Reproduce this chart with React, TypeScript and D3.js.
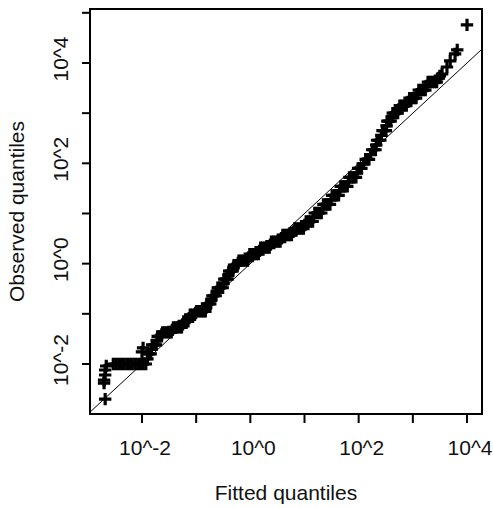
import React from "react";
import * as d3 from "d3";

// QQ plot points, stored as log10 exponents (fitted, observed)
const fittedExp = [
  // lowest isolated points
  -2.68, -2.7, -2.7, -2.68, -2.68, -2.66,
  // tie at 10^-2
  -2.53, -2.48, -2.43, -2.38, -2.33, -2.28, -2.23, -2.18, -2.13, -2.08, -2.03, -1.98, -1.93,
  -2.0, -1.98,
  // rise
  -1.9, -1.87, -1.84, -1.825, -1.81, -1.77, -1.74, -1.725, -1.71, -1.68, -1.65, -1.635,
  -1.62, -1.58, -1.54, -1.5, -1.46, -1.44, -1.42, -1.38, -1.34, -1.3, -1.27, -1.25,
  -1.23, -1.19, -1.15, -1.13, -1.11, -1.07, -1.03, -1.01,
  -0.99, -0.95, -0.91, -0.87, -0.83, -0.815,
  -0.8, -0.77, -0.74, -0.72, -0.7, -0.67, -0.64, -0.62, -0.6, -0.57, -0.54, -0.51, -0.495,
  -0.48, -0.45, -0.42, -0.405, -0.39, -0.36, -0.33, -0.315, -0.3, -0.27, -0.24, -0.225,
  -0.21, -0.17, -0.13, -0.09, -0.05, -0.03, -0.01, 0.03, 0.07, 0.11, 0.15, 0.17,
  0.19, 0.23, 0.27, 0.31, 0.35, 0.37, 0.39, 0.43, 0.47, 0.51, 0.55, 0.575,
  0.6, 0.64, 0.68, 0.72, 0.76, 0.79, 0.82, 0.86, 0.9, 0.94, 0.98, 1.005,
  1.03, 1.07, 1.11, 1.15, 1.17, 1.19, 1.23, 1.27, 1.31, 1.33, 1.35, 1.39, 1.43, 1.47, 1.49,
  1.51, 1.55, 1.59, 1.63, 1.65, 1.67, 1.71, 1.75, 1.79, 1.81, 1.83, 1.87, 1.91, 1.95, 1.97,
  1.99, 2.02, 2.05, 2.09, 2.13, 2.16, 2.19, 2.22, 2.25, 2.28, 2.31, 2.325, 2.34, 2.37, 2.4, 2.42,
  2.44, 2.47, 2.5, 2.515, 2.53, 2.56, 2.59, 2.61, 2.63, 2.66, 2.69, 2.72, 2.74,
  2.76, 2.8, 2.84, 2.88, 2.91, 2.94, 2.98, 3.02, 3.06, 3.085, 3.11, 3.15, 3.19, 3.23, 3.255,
  3.28, 3.32, 3.36, 3.4, 3.44, 3.48, 3.5,
  // upper tail
  3.54, 3.63, 3.69, 3.78, 3.82, 4.0,
];
const observedExp = [
  -2.7, -2.38, -2.32, -2.22, -2.12, -2.04,
  -2.0, -2.0, -2.0, -2.0, -2.0, -2.0, -2.0, -2.0, -2.0, -2.0, -2.0, -2.0, -2.0,
  -1.76, -1.68,
  -1.9, -1.8, -1.8, -1.71, -1.62, -1.62, -1.62, -1.535, -1.45, -1.45, -1.45, -1.41,
  -1.37, -1.37, -1.37, -1.37, -1.37, -1.32, -1.27, -1.27, -1.27, -1.27, -1.27, -1.21,
  -1.15, -1.15, -1.15, -1.085, -1.02, -1.02, -1.02, -0.985,
  -0.95, -0.95, -0.95, -0.95, -0.95, -0.875,
  -0.8, -0.8, -0.8, -0.72, -0.64, -0.64, -0.64, -0.56, -0.48, -0.48, -0.48, -0.48, -0.395,
  -0.31, -0.31, -0.31, -0.23, -0.15, -0.15, -0.15, -0.09, -0.03, -0.03, -0.03, 0.015,
  0.06, 0.06, 0.06, 0.06, 0.06, 0.125, 0.19, 0.19, 0.19, 0.19, 0.19, 0.255,
  0.32, 0.32, 0.32, 0.32, 0.32, 0.38, 0.44, 0.44, 0.44, 0.44, 0.44, 0.505,
  0.57, 0.57, 0.57, 0.57, 0.57, 0.635, 0.7, 0.7, 0.7, 0.7, 0.7, 0.77,
  0.84, 0.84, 0.84, 0.84, 0.925, 1.01, 1.01, 1.01, 1.01, 1.095, 1.18, 1.18, 1.18, 1.18, 1.27,
  1.36, 1.36, 1.36, 1.36, 1.45, 1.54, 1.54, 1.54, 1.54, 1.63, 1.72, 1.72, 1.72, 1.72, 1.81,
  1.9, 1.9, 1.9, 1.99, 2.08, 2.08, 2.08, 2.175, 2.27, 2.27, 2.27, 2.365, 2.46, 2.46, 2.46, 2.555,
  2.65, 2.65, 2.65, 2.745, 2.84, 2.84, 2.84, 2.92, 3.0, 3.0, 3.0, 3.0, 3.075,
  3.15, 3.15, 3.15, 3.15, 3.225, 3.3, 3.3, 3.3, 3.3, 3.38, 3.46, 3.46, 3.46, 3.46, 3.54,
  3.62, 3.62, 3.62, 3.62, 3.62, 3.7, 3.74,
  3.78, 3.92, 4.04, 4.18, 4.26, 4.76,
];

const xTickExps = [-2, -1, 0, 1, 2, 3, 4];
const yTickExps = [-2, -1, 0, 1, 2, 3, 4, 5];
const labelExps = [-2, 0, 2, 4];

const xTitle = "Fitted quantiles";
const yTitle = "Observed quantiles";

export default function App() {
  const left = 90, right = 482, top = 9, bottom = 414;
  const x = d3.scaleLog().domain([10 ** -2.96, 10 ** 4.277]).range([left, right]);
  const y = d3.scaleLog().domain([10 ** -2.997, 10 ** 5.076]).range([bottom, top]);
  const pts = fittedExp.map((e, i) => [10 ** e, 10 ** observedExp[i]]);
  const font = "'Liberation Sans', Arial, sans-serif";
  const ms = 6.2;
  const d0 = 10 ** -3.2, d1 = 10 ** 5.2;
  return (
    <svg width={493} height={508} style={{ position: "absolute", left: 0, top: 0, background: "#fff" }}>
      <defs>
        <clipPath id="plotclip">
          <rect x={left} y={top} width={right - left} height={bottom - top} />
        </clipPath>
      </defs>
      <rect x={0} y={0} width={493} height={508} fill="#fff" />
      <g clipPath="url(#plotclip)">
        <line x1={x(d0)} y1={y(d0)} x2={x(d1)} y2={y(d1)} stroke="#000" strokeWidth={1} />
      </g>
      <g stroke="#000" strokeWidth={3.2} fill="none">
        {pts.map(([fx, oy], i) => {
          const cx = x(fx), cy = y(oy);
          return <path key={i} d={`M${cx - ms},${cy}H${cx + ms}M${cx},${cy - ms}V${cy + ms}`} />;
        })}
      </g>
      <rect x={left} y={top} width={right - left} height={bottom - top} fill="none" stroke="#000" strokeWidth={2} />
      <g stroke="#000" strokeWidth={2}>
        {xTickExps.map((e) => (
          <line key={e} x1={x(10 ** e)} x2={x(10 ** e)} y1={bottom} y2={bottom + 9} />
        ))}
        {yTickExps.map((e) => (
          <line key={e} x1={left} x2={left - 8} y1={y(10 ** e)} y2={y(10 ** e)} />
        ))}
      </g>
      <g fontFamily={font} fontSize={21} fill="#111">
        {labelExps.map((e) => (
          <text key={"x" + e} x={x(10 ** e) + 3} y={455} textAnchor="middle">{`10^${e}`}</text>
        ))}
        {labelExps.map((e) => (
          <text key={"y" + e} transform={`translate(68,${y(10 ** e) - 4}) rotate(-90)`} textAnchor="middle">{`10^${e}`}</text>
        ))}
        <text x={(left + right) / 2} y={500} textAnchor="middle">{xTitle}</text>
        <text transform={`translate(23.5,${(top + bottom) / 2}) rotate(-90)`} textAnchor="middle">{yTitle}</text>
      </g>
    </svg>
  );
}
